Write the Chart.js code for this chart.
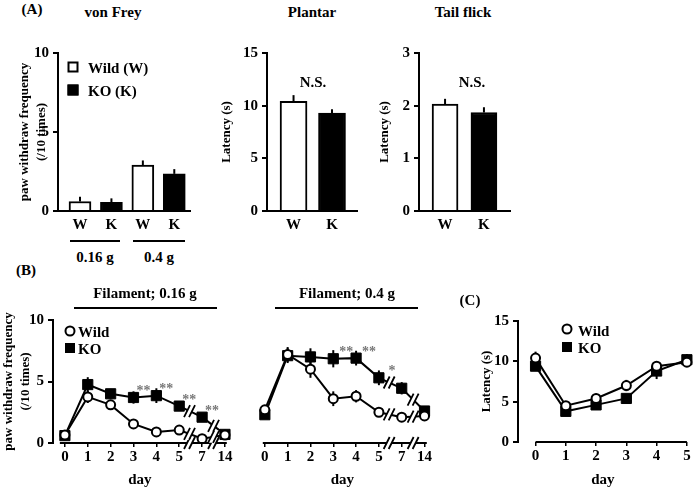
<!DOCTYPE html>
<html>
<head>
<meta charset="utf-8">
<script src="https://cdn.jsdelivr.net/npm/chart.js@4.4.0/dist/chart.umd.min.js"></script>
<style>
body { margin: 0; background: #fff; }
#fig { position: relative; width: 697px; height: 489px; overflow: hidden;
       font-family: "Liberation Serif", "Times New Roman", serif; font-weight: bold; font-size: 15px; color: #000; }
#fig canvas { position: absolute; }
.t  { position: absolute; transform: translate(-50%, -50%); white-space: nowrap; }
.tl { position: absolute; transform: translateY(-50%); white-space: nowrap; }
.hl { position: absolute; height: 2px; background: #000; }
.mk { position: absolute; box-sizing: border-box; transform: translate(-50%, -50%); border: 2px solid #000; }
</style>
</head>
<body>
<div id="fig">
  <canvas id="vf" width="179" height="200" style="left:16px;top:40px"></canvas>
  <canvas id="pl" width="144" height="200" style="left:218px;top:40px"></canvas>
  <canvas id="tf" width="139" height="200" style="left:376px;top:40px"></canvas>
  <canvas id="b16" width="235" height="189" style="left:0px;top:300px"></canvas>
  <canvas id="b04" width="187" height="189" style="left:248px;top:300px"></canvas>
  <canvas id="lc" width="218" height="181" style="left:478px;top:308px"></canvas>

  <!-- (A) -->
  <div class="t" style="left:32px;top:9px">(A)</div>
  <div class="t" style="left:113px;top:12px">von Frey</div>
  <div class="t" style="left:312px;top:12px">Plantar</div>
  <div class="t" style="left:463px;top:12px">Tail flick</div>
  <div class="mk" style="left:73px;top:67px;width:11px;height:11px;background:#fff"></div>
  <div class="tl" style="left:88px;top:68px">Wild (W)</div>
  <div class="mk" style="left:73px;top:90px;width:11px;height:11px;background:#000"></div>
  <div class="tl" style="left:88px;top:91px">KO (K)</div>
  <div class="t" style="left:313px;top:82px">N.S.</div>
  <div class="t" style="left:472px;top:82px">N.S.</div>
  <div class="hl" style="left:70px;top:240px;width:50px"></div>
  <div class="hl" style="left:133px;top:240px;width:52px"></div>
  <div class="t" style="left:95px;top:257px">0.16 g</div>
  <div class="t" style="left:159px;top:257px">0.4 g</div>

  <!-- (B) -->
  <div class="t" style="left:26px;top:270px">(B)</div>
  <div class="t" style="left:145px;top:293px">Filament; 0.16 g</div>
  <div class="hl" style="left:74px;top:307px;width:143px"></div>
  <div class="t" style="left:347px;top:293px">Filament; 0.4 g</div>
  <div class="hl" style="left:275px;top:307px;width:143px"></div>
  <div class="mk" style="left:70px;top:331px;width:11px;height:11px;border-radius:50%;background:#fff"></div>
  <div class="tl" style="left:78px;top:332px">Wild</div>
  <div class="mk" style="left:70px;top:348px;width:10px;height:10px;background:#000"></div>
  <div class="tl" style="left:78px;top:349px">KO</div>

  <!-- (C) -->
  <div class="t" style="left:470px;top:300px">(C)</div>
  <div class="mk" style="left:567px;top:329px;width:11px;height:11px;border-radius:50%;background:#fff"></div>
  <div class="tl" style="left:578px;top:331px">Wild</div>
  <div class="mk" style="left:567px;top:347px;width:10px;height:10px;background:#000"></div>
  <div class="tl" style="left:578px;top:348px">KO</div>
</div>

<script>
// --- Data: (A) bars ---
const vfLabels = ['W', 'K', 'W', 'K'];
const vfWild = [0.6, 2.9];
const vfWildErr = [0.3, 0.3];
const vfKO = [0.55, 2.35];
const vfKOErr = [0.25, 0.3];

const wkLabels = ['W', 'K'];
const plantarWild = [10.4];
const plantarWildErr = [0.6];
const plantarKO = [9.3];
const plantarKOErr = [0.35];

const tailWild = [2.03];
const tailWildErr = [0.1];
const tailKO = [1.87];
const tailKOErr = [0.1];

// --- Data: (B) von Frey time course ---
const daysB = ['0', '1', '2', '3', '4', '5', '7', '14'];
const wild016 = [0.65, 3.75, 3.1, 1.55, 0.9, 1.05, 0.35, 0.65];
const wild016Err = [0.2, 0.5, 0.3, 0.35, 0.2, 0.2, 0.2, 0.2];
const ko016 = [0.6, 4.75, 4.0, 3.7, 3.85, 3.0, 2.1, 0.7];
const ko016Err = [0.2, 0.6, 0.4, 0.5, 0.6, 0.4, 0.3, 0.2];
const stars016 = ['', '', '', '**', '**', '**', '**', ''];

const wild04 = [2.7, 7.2, 6.0, 3.6, 3.8, 2.5, 2.1, 2.2];
const wild04Err = [0.3, 0.6, 0.7, 0.6, 0.5, 0.3, 0.2, 0.4];
const ko04 = [2.3, 7.1, 7.0, 6.85, 6.9, 5.3, 4.45, 2.6];
const ko04Err = [0.2, 0.6, 0.7, 0.7, 0.6, 0.6, 0.5, 0.3];
const stars04 = ['', '', '', '**', '**', '*', '', ''];

// --- Data: (C) plantar time course ---
const daysC = ['0', '1', '2', '3', '4', '5'];
const wildC = [10.4, 4.5, 5.4, 7.0, 9.4, 9.9];
const wildCErr = [0.8, 0.4, 0.6, 0.7, 0.6, 0.5];
const koC = [9.4, 3.8, 4.6, 5.4, 8.8, 10.2];
const koCErr = [0.5, 0.4, 0.4, 0.4, 1.0, 0.7];

// --- Defaults ---
Chart.defaults.font.family = '"Liberation Serif", "Times New Roman", serif';
Chart.defaults.font.size = 15;
Chart.defaults.font.weight = 'bold';
Chart.defaults.color = '#000';
Chart.defaults.animation = false;
Chart.defaults.responsive = false;
Chart.defaults.plugins.legend.display = false;
Chart.defaults.plugins.tooltip.enabled = false;

const axisTitleFont = { size: 13, weight: 'bold', lineHeight: 1.3 };

// "//" axis break mark
function drawBreak(ctx, x, y) {
    const h = 6, s = 3, g = 2.5;
    ctx.save();
    ctx.fillStyle = '#fff';
    ctx.beginPath();
    ctx.moveTo(x - g - s, y + h);
    ctx.lineTo(x - g + s, y - h);
    ctx.lineTo(x + g + s, y - h);
    ctx.lineTo(x + g - s, y + h);
    ctx.closePath();
    ctx.fill();
    ctx.strokeStyle = '#000';
    ctx.lineWidth = 1.8;
    ctx.beginPath();
    ctx.moveTo(x - g - s, y + h); ctx.lineTo(x - g + s, y - h);
    ctx.moveTo(x + g - s, y + h); ctx.lineTo(x + g + s, y - h);
    ctx.stroke();
    ctx.restore();
}

// error bars, custom axis line, breaks and significance marks
const extras = {
    id: 'extras',
    beforeDatasetsDraw(chart, args, opts) {
        const ctx = chart.ctx, ys = chart.scales.y;
        ctx.save();
        ctx.strokeStyle = '#000';
        ctx.lineWidth = 2;
        chart.data.datasets.forEach((ds, i) => {
            if (!ds.errors) return;
            chart.getDatasetMeta(i).data.forEach((el, j) => {
                const v = ds.data[j].y, e = ds.errors[j];
                const top = ys.getPixelForValue(v + e);
                const bot = opts.upOnly ? el.y : ys.getPixelForValue(v - e);
                ctx.beginPath();
                ctx.moveTo(el.x, top);
                ctx.lineTo(el.x, bot);
                ctx.stroke();
            });
        });
        ctx.restore();
    },
    afterDatasetsDraw(chart, args, opts) {
        const ctx = chart.ctx, xs = chart.scales.x, ys = chart.scales.y;
        const area = chart.chartArea;
        if (opts.axisFrom !== undefined) {
            ctx.save();
            ctx.strokeStyle = '#000';
            ctx.lineWidth = 2;
            ctx.beginPath();
            ctx.moveTo(xs.getPixelForValue(opts.axisFrom), area.bottom);
            ctx.lineTo(xs.getPixelForValue(opts.axisTo), area.bottom);
            ctx.stroke();
            ctx.restore();
        }
        (opts.breaks || []).forEach(b => {
            const px = xs.getPixelForValue(b);
            drawBreak(ctx, px, area.bottom);
            chart.data.datasets.forEach(ds => {
                const k = Math.floor(b), f = b - k;
                const v = ds.data[k].y + (ds.data[k + 1].y - ds.data[k].y) * f;
                drawBreak(ctx, px, ys.getPixelForValue(v));
            });
        });
        if (opts.stars) {
            const meta = chart.getDatasetMeta(1);
            ctx.save();
            ctx.fillStyle = '#777';
            ctx.font = 'bold 14px "Liberation Serif", serif';
            ctx.textAlign = 'center';
            ctx.textBaseline = 'middle';
            opts.stars.forEach((s, j) => {
                if (s) ctx.fillText(s, meta.data[j].x + opts.starDx, meta.data[j].y + opts.starDy);
            });
            ctx.restore();
        }
    }
};

function makeBarChart(id, c) {
    const wildPts = c.wild.map((v, i) => ({ x: i * 2, y: v }));
    const koPts = c.ko.map((v, i) => ({ x: i * 2 + 1, y: v }));
    return new Chart(document.getElementById(id), {
        type: 'bar',
        data: {
            datasets: [
                { data: wildPts, errors: c.wildErr, backgroundColor: '#fff', borderColor: '#000',
                  borderWidth: 2, barThickness: c.barW, grouped: false },
                { data: koPts, errors: c.koErr, backgroundColor: '#000', borderColor: '#000',
                  borderWidth: 2, barThickness: c.barW, grouped: false }
            ]
        },
        options: {
            layout: { padding: { top: 10, right: 5, bottom: 0, left: 0 } },
            plugins: { extras: { upOnly: true } },
            scales: {
                x: {
                    type: 'linear', min: c.xMin, max: c.xMax, offset: false,
                    border: { color: '#000', width: 2 },
                    grid: { display: true, drawOnChartArea: false, drawTicks: false, offset: false },
                    ticks: { autoSkip: false, maxRotation: 0, padding: 5, callback: v => c.labels[v] },
                    afterBuildTicks: s => { s.ticks = c.labels.map((_, i) => ({ value: i })); },
                    afterFit: s => { s.height = 29; }
                },
                y: {
                    min: 0, max: c.yMax,
                    ticks: { stepSize: c.yStep, padding: 4 },
                    border: { color: '#000', width: 2 },
                    grid: { drawOnChartArea: false, tickLength: 5, color: '#000', lineWidth: 2 },
                    title: { display: true, text: c.yTitle, padding: 0, font: axisTitleFont },
                    afterFit: s => { s.width = c.yWidth; }
                }
            }
        },
        plugins: [extras]
    });
}

function makeLineChart(id, c) {
    const pts = arr => arr.map((v, i) => ({ x: i, y: v }));
    const yOpts = {
        min: 0, max: c.yMax,
        display: c.yShow,
        ticks: { stepSize: c.yStep, padding: 4 },
        border: { color: '#000', width: 2 },
        grid: { drawOnChartArea: false, tickLength: 5, color: '#000', lineWidth: 2 },
        title: { display: !!c.yTitle, text: c.yTitle, padding: 0, font: axisTitleFont },
        afterFit: s => { s.width = c.yWidth; }
    };
    return new Chart(document.getElementById(id), {
        type: 'line',
        data: {
            datasets: [
                { data: pts(c.wild), errors: c.wildErr, borderColor: '#000', borderWidth: 2,
                  pointStyle: 'circle', pointRadius: 4.5, pointBackgroundColor: '#fff',
                  pointBorderColor: '#000', pointBorderWidth: 2, clip: false },
                { data: pts(c.ko), errors: c.koErr, borderColor: '#000', borderWidth: 2,
                  pointStyle: 'rect', pointRadius: 7.2, pointBackgroundColor: '#000',
                  pointBorderColor: '#000', pointBorderWidth: 1, clip: false }
            ]
        },
        options: {
            layout: { padding: { top: c.padTop, right: 5, bottom: 0, left: c.padLeft || 0 } },
            plugins: {
                extras: {
                    axisFrom: c.axisFrom, axisTo: c.axisTo, breaks: c.breaks,
                    stars: c.stars, starDx: c.starDx, starDy: c.starDy
                }
            },
            scales: {
                x: {
                    type: 'linear', min: c.xMin, max: c.xMax,
                    border: { display: false },
                    grid: { drawOnChartArea: false, tickLength: 4, color: '#000', lineWidth: 1.5 },
                    ticks: { autoSkip: false, maxRotation: 0, padding: 1, callback: v => c.labels[v] },
                    afterBuildTicks: s => { s.ticks = c.labels.map((_, i) => ({ value: i })); },
                    title: { display: true, text: 'day', padding: 0 },
                    afterFit: s => { s.height = c.xHeight; }
                },
                y: yOpts
            }
        },
        plugins: [extras]
    });
}

// --- (A) ---
makeBarChart('vf', {
    labels: vfLabels, wild: vfWild, wildErr: vfWildErr, ko: vfKO, koErr: vfKOErr,
    yMax: 10, yStep: 5, xMin: -0.7, xMax: 3.5, barW: 22, yWidth: 42,
    yTitle: ['paw withdraw frequency', '(/10 times)']
});
makeBarChart('pl', {
    labels: wkLabels, wild: plantarWild, wildErr: plantarWildErr, ko: plantarKO, koErr: plantarKOErr,
    yMax: 15, yStep: 5, xMin: -0.69, xMax: 1.65, barW: 27, yWidth: 49, yTitle: 'Latency (s)'
});
makeBarChart('tf', {
    labels: wkLabels, wild: tailWild, wildErr: tailWildErr, ko: tailKO, koErr: tailKOErr,
    yMax: 3, yStep: 1, xMin: -0.67, xMax: 1.67, barW: 26, yWidth: 43, yTitle: 'Latency (s)'
});

// --- (B) ---
makeLineChart('b16', {
    labels: daysB, wild: wild016, wildErr: wild016Err, ko: ko016, koErr: ko016Err,
    yMax: 10, yStep: 5, yShow: true, yWidth: 53, xHeight: 46, padTop: 20,
    yTitle: ['paw withdraw frequency', '(/10 times)'],
    xMin: -0.52, xMax: 7.08, axisFrom: -0.22, axisTo: 7.08, breaks: [5.45, 6.5],
    stars: stars016, starDx: 10, starDy: -6
});
makeLineChart('b04', {
    labels: daysB, wild: wild04, wildErr: wild04Err, ko: ko04, koErr: ko04Err,
    yMax: 10, yStep: 5, yShow: false, yWidth: 0, xHeight: 46, padLeft: 10, padTop: 20,
    xMin: -0.3, xMax: 7.1, axisFrom: -0.09, axisTo: 7.1, breaks: [5.45, 6.5],
    stars: stars04, starDx: 13, starDy: -6
});

// --- (C) ---
makeLineChart('lc', {
    labels: daysC, wild: wildC, wildErr: wildCErr, ko: koC, koErr: koCErr,
    yMax: 15, yStep: 5, yShow: true, yWidth: 40, xHeight: 47, padTop: 10, yTitle: 'Latency (s)',
    xMin: -0.58, xMax: 5.03, axisFrom: 0, axisTo: 5
});
</script>
</body>
</html>
